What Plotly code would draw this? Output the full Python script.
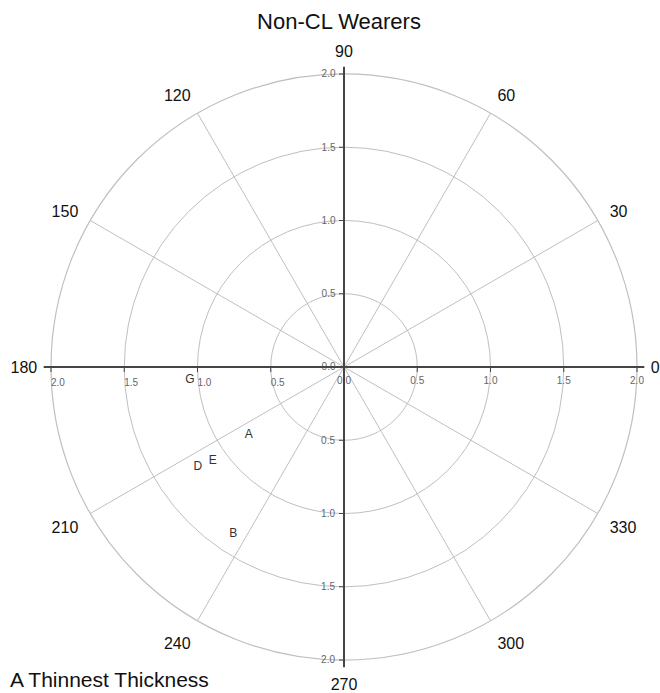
import plotly.graph_objects as go

# Canvas and polar geometry (pixels)
W, H = 660, 693
CX, CY = 344, 367      # centre of the polar plot
R_PX = 293             # pixel radius of r = 2.0

R_MAX = 2.0            # outer ring
R_EXT = 2.05           # dark cross axes run slightly past the outer ring

# Measured points (radius, direction in degrees) with their labels
point_labels = ["A", "B", "D", "E", "G"]
point_r = [0.80, 1.37, 1.21, 1.10, 1.055]
point_theta = [215.6, 236.5, 214.5, 215.5, 184.9]

# Grid / tick values
angle_ticks = list(range(0, 360, 30))
ring_vals = [0.5, 1.0, 1.5]
arm_ticks_full = [0.0, 0.5, 1.0, 1.5, 2.0]
arm_ticks_part = [0.5, 1.0, 1.5, 2.0]

FONT = "Liberation Sans, Arial, sans-serif"
GRID = "#bfbfbf"
AXIS = "#454545"


def domain(radius_px):
    return dict(
        x=[(CX - radius_px) / W, (CX + radius_px) / W],
        y=[1 - (CY + radius_px) / H, 1 - (CY - radius_px) / H],
    )


fig = go.Figure()

# Labelled points
fig.add_trace(go.Scatterpolar(
    r=point_r, theta=point_theta, text=point_labels, mode="text",
    textfont=dict(family=FONT, size=12, color="#333333"),
    cliponaxis=False, showlegend=False, hoverinfo="skip", subplot="polar",
))

layout = dict(
    width=W, height=H,
    margin=dict(l=0, r=0, t=0, b=0),
    paper_bgcolor="white",
    font=dict(family=FONT, color="#111111"),
    title=dict(text="Non-CL Wearers", x=339 / W, xanchor="center",
               y=1 - 21 / H, yanchor="middle",
               font=dict(family=FONT, size=22, color="#111111")),
    polar=dict(
        domain=domain(R_PX),
        bgcolor="rgba(0,0,0,0)",
        radialaxis=dict(range=[0, R_MAX], tickvals=ring_vals, showticklabels=False,
                        ticks="", showline=False, gridcolor=GRID, gridwidth=1.2),
        angularaxis=dict(rotation=0, direction="counterclockwise",
                         tickvals=angle_ticks, ticktext=[str(a) for a in angle_ticks],
                         showline=True, linecolor=GRID, linewidth=1.2,
                         gridcolor=GRID, gridwidth=1.2,
                         ticks="outside", ticklen=10, tickcolor="rgba(0,0,0,0)",
                         tickfont=dict(family=FONT, size=16, color="#111111")),
    ),
    annotations=[dict(text="A Thinnest Thickness", x=8 / W, xanchor="left",
                      y=0, yanchor="bottom", xref="paper", yref="paper",
                      showarrow=False, font=dict(family=FONT, size=21, color="#111111"))],
)

# Four dark axis arms (right, up, left, down), each a radial axis of its own subplot
arms = [
    (0, "clockwise", 0, arm_ticks_full),
    (90, "counterclockwise", 90, arm_ticks_full),
    (180, "counterclockwise", 180, arm_ticks_part),
    (270, "clockwise", -90, arm_ticks_part),
]
ext_px = R_PX * R_EXT / R_MAX
for i, (ang, side, tang, ticks) in enumerate(arms, start=2):
    name = f"polar{i}"
    fig.add_trace(go.Scatterpolar(r=[], theta=[], mode="markers", showlegend=False,
                                  hoverinfo="skip", subplot=name))
    layout[name] = dict(
        domain=domain(ext_px),
        bgcolor="rgba(0,0,0,0)",
        angularaxis=dict(visible=False, rotation=0, direction="counterclockwise"),
        radialaxis=dict(range=[0, R_EXT], angle=ang, side=side, tickangle=tang,
                        showline=True, linecolor=AXIS, linewidth=2,
                        showgrid=False, ticks="outside", ticklen=4,
                        tickcolor=AXIS, tickwidth=1.2,
                        tickvals=ticks, ticktext=[f"{t:.1f}" for t in ticks],
                        tickfont=dict(family=FONT, size=10, color="#666666")),
    )

fig.update_layout(**layout)
fig.write_html("out.html")
